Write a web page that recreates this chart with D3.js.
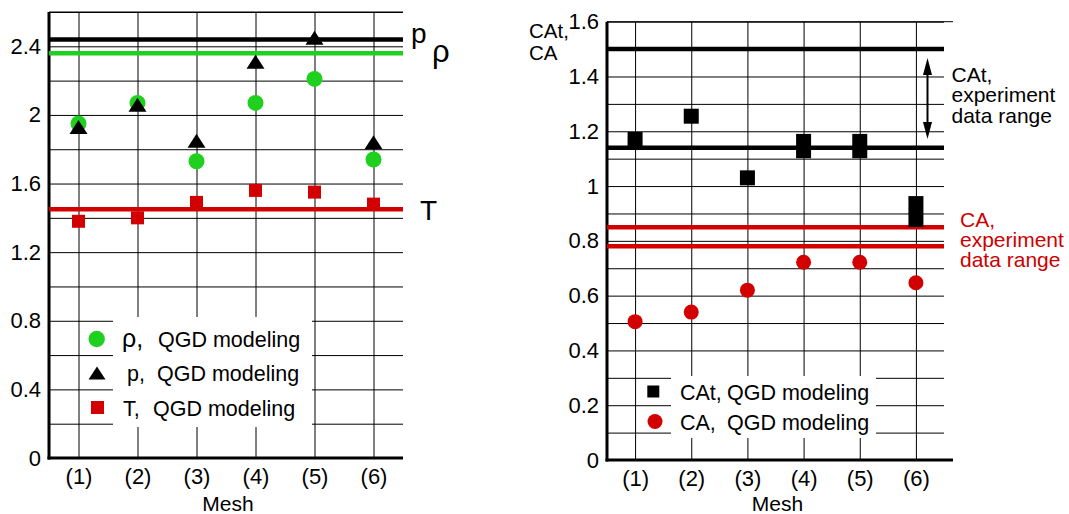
<!DOCTYPE html>
<html><head><meta charset="utf-8">
<script src="https://cdn.jsdelivr.net/npm/d3@7"></script>
<style>
body{margin:0;background:#fff}
svg{display:block}
text{font-family:"Liberation Sans",Arial,Helvetica,sans-serif;fill:#000}
</style>
</head><body>
<svg id="c" width="1069" height="514"></svg>
<script>
// ---------- data ----------
const meshIdx = [1, 2, 3, 4, 5, 6];
const meshLabels = ["(1)", "(2)", "(3)", "(4)", "(5)", "(6)"];

// left panel: rho, p, T (QGD modeling)
const rhoValues = [1.95, 2.07, 1.73, 2.07, 2.21, 1.74];
const pValues   = [1.93, 2.06, 1.85, 2.31, 2.45, 1.84];
const tValues   = [1.38, 1.40, 1.49, 1.56, 1.55, 1.48];
const pExperiment = 2.44;
const rhoExperiment = 2.36;
const tExperiment = 1.45;
const leftTickValues = [0, 0.4, 0.8, 1.2, 1.6, 2, 2.4];
const leftTickLabels = ["0", "0.4", "0.8", "1.2", "1.6", "2", "2.4"];
const leftLegendLabels = ["ρ,", "p,", "T,"];

// right panel: CAt, CA (QGD modeling)
const catUpper = [1.17, 1.255, 1.03, 1.163, 1.163, 0.936];
const catLower = [1.17, 1.255, 1.03, 1.129, 1.129, 0.878];
const caValues = [0.505, 0.54, 0.62, 0.722, 0.722, 0.647];
const catExperimentRange = [1.14, 1.50];
const caExperimentRange = [0.78, 0.85];
const rightTickValues = [0, 0.2, 0.4, 0.6, 0.8, 1, 1.2, 1.4, 1.6];
const rightTickLabels = ["0", "0.2", "0.4", "0.6", "0.8", "1", "1.2", "1.4", "1.6"];
const rightLegendLabels = ["CAt,", "CA,"];

// ---------- styles ----------
const GREEN = "#1fd01f", RED = "#d20000", RED_TEXT = "#cc0000";
const FONT = '"Liberation Sans",Arial,sans-serif';
const svg = d3.select("#c");

function fmt(vals, labels) { return v => { const i = vals.findIndex(t => Math.abs(t - v) < 1e-9); return i >= 0 ? labels[i] : ""; }; }

function panel(o) {
  const g = svg.append("g");
  const x = d3.scaleLinear().domain([0.5, 6.5]).range([o.x0, o.x1]);
  const y = d3.scaleLinear().domain([0, o.ymax]).range([o.y0, o.y1]);
  const gridVals = y.ticks(o.gridCount);

  // horizontal grid + tick labels
  const ya = g.append("g").attr("transform", `translate(${o.x0},0)`)
    .call(d3.axisLeft(y).tickValues(gridVals).tickSize(-(o.x1 - o.x0)).tickPadding(8)
      .tickFormat(fmt(o.tickVals, o.tickLabels)));
  ya.select(".domain").remove();
  ya.selectAll("line").attr("stroke", "#000").attr("stroke-width", 1);
  ya.selectAll("text").attr("font-size", 22).attr("font-family", FONT);

  // vertical grid + mesh labels
  const xa = g.append("g").attr("transform", `translate(0,${o.y0})`)
    .call(d3.axisBottom(x).tickValues(meshIdx).tickSize(-(o.y0 - o.y1)).tickPadding(10)
      .tickFormat((d, i) => meshLabels[i]));
  xa.select(".domain").remove();
  xa.selectAll("line").attr("stroke", "#000").attr("stroke-width", 1);
  xa.selectAll("text").attr("font-size", 22).attr("font-family", FONT);

  // legend white box
  g.append("rect").attr("x", o.box[0]).attr("y", o.box[1]).attr("width", o.box[2]).attr("height", o.box[3]).attr("fill", "#fff");

  // axes
  g.append("line").attr("x1", o.x0).attr("x2", o.x0).attr("y1", o.y1).attr("y2", o.y0 + 1.5)
    .attr("stroke", "#000").attr("stroke-width", 3);
  g.append("line").attr("x1", o.x0 - 1.5).attr("x2", o.axisEnd).attr("y1", o.y0).attr("y2", o.y0)
    .attr("stroke", "#000").attr("stroke-width", 3);
  g.append("line").attr("x1", o.x0).attr("x2", o.axisEnd).attr("y1", o.y1).attr("y2", o.y1)
    .attr("stroke", "#000").attr("stroke-width", 1);

  // Mesh title
  g.append("text").attr("x", (o.x0 + o.x1) / 2 + 2).attr("y", 511).attr("text-anchor", "middle")
    .attr("font-size", 21).text("Mesh");
  return { g, x, y };
}

function hline(g, x, y, v, color) {
  g.append("line").attr("x1", x.range()[0]).attr("x2", x.range()[1])
    .attr("y1", y(v)).attr("y2", y(v)).attr("stroke", color).attr("stroke-width", 4.5);
}
function triPath(w, h) { return `M0,${-h / 2}L${w / 2},${h / 2}L${-w / 2},${h / 2}Z`; }

// ---------- left panel ----------
const L = panel({ x0: 49, x1: 403, y0: 458, y1: 12, ymax: 2.6, gridCount: 13,
  tickVals: leftTickValues, tickLabels: leftTickLabels, axisEnd: 403, box: [113, 317, 199, 110] });

hline(L.g, L.x, L.y, pExperiment, "#000");
hline(L.g, L.x, L.y, rhoExperiment, GREEN);
hline(L.g, L.x, L.y, tExperiment, RED);

L.g.append("g").selectAll("circle").data(rhoValues).join("circle")
  .attr("cx", (d, i) => L.x(meshIdx[i])).attr("cy", d => L.y(d)).attr("r", 8).attr("fill", GREEN);
L.g.append("g").selectAll("path").data(pValues).join("path")
  .attr("d", triPath(18, 14)).attr("transform", (d, i) => `translate(${L.x(meshIdx[i])},${L.y(d)})`).attr("fill", "#000");
L.g.append("g").selectAll("rect").data(tValues).join("rect")
  .attr("x", (d, i) => L.x(meshIdx[i]) - 6.5).attr("y", d => L.y(d) - 6.5).attr("width", 13).attr("height", 13).attr("fill", RED);

// series labels at right
svg.append("text").attr("x", 411).attr("y", 43).attr("font-size", 28).text("p");
svg.append("text").attr("x", 432).attr("y", 62).attr("font-size", 31).text("ρ");
svg.append("text").attr("x", 420).attr("y", 219.5).attr("font-size", 28).text("T");

// left legend
const legL = svg.append("g");
const legLy = [339, 373, 407.5];
legL.append("circle").attr("cx", 96.7).attr("cy", legLy[0]).attr("r", 8.2).attr("fill", GREEN);
legL.append("path").attr("d", triPath(17, 13)).attr("transform", `translate(97,${legLy[1]})`).attr("fill", "#000");
legL.append("rect").attr("x", 91).attr("y", legLy[2] - 6.5).attr("width", 13).attr("height", 13).attr("fill", RED);
const legLx1 = [122, 127, 123], legLx2 = [158, 157, 153];
const legLsize = [25, 21.5, 21.5];
leftLegendLabels.forEach((s, i) => {
  legL.append("text").attr("x", legLx1[i]).attr("y", legLy[i] + 8).attr("font-size", legLsize[i]).text(s);
  legL.append("text").attr("x", legLx2[i]).attr("y", legLy[i] + 8).attr("font-size", 21.5).text("QGD modeling");
});

// ---------- right panel ----------
const R = panel({ x0: 607, x1: 944, y0: 460, y1: 21.7, ymax: 1.6, gridCount: 16,
  tickVals: rightTickValues, tickLabels: rightTickLabels, axisEnd: 953, box: [671, 376, 205, 62] });

hline(R.g, R.x, R.y, catExperimentRange[1], "#000");
hline(R.g, R.x, R.y, catExperimentRange[0], "#000");
hline(R.g, R.x, R.y, caExperimentRange[1], RED);
hline(R.g, R.x, R.y, caExperimentRange[0], RED);

const sq = 15;
R.g.append("g").selectAll("rect").data(catUpper).join("rect")
  .attr("x", (d, i) => R.x(meshIdx[i]) - sq / 2).attr("y", d => R.y(d) - sq / 2)
  .attr("width", sq).attr("height", (d, i) => sq + (R.y(catLower[i]) - R.y(d))).attr("fill", "#000");
R.g.append("g").selectAll("circle").data(caValues).join("circle")
  .attr("cx", (d, i) => R.x(meshIdx[i])).attr("cy", d => R.y(d)).attr("r", 7.5).attr("fill", RED);

// y label
svg.append("text").attr("x", 529).attr("y", 38).attr("font-size", 20.5).text("CAt,");
svg.append("text").attr("x", 529).attr("y", 59.5).attr("font-size", 20.5).text("CA");

// experiment range annotation (double arrow)
const ax = 927.5, aTop = 58, aBot = 139;
svg.append("line").attr("x1", ax).attr("x2", ax).attr("y1", aTop + 10).attr("y2", aBot - 10).attr("stroke", "#000").attr("stroke-width", 2);
svg.append("path").attr("d", `M${ax},${aTop}L${ax + 4.5},${aTop + 17}L${ax - 4.5},${aTop + 17}Z`).attr("fill", "#000");
svg.append("path").attr("d", `M${ax},${aBot}L${ax + 4.5},${aBot - 17}L${ax - 4.5},${aBot - 17}Z`).attr("fill", "#000");
["CAt,", "experiment", "data range"].forEach((s, i) =>
  svg.append("text").attr("x", 951.5).attr("y", 81.5 + i * 20.5).attr("font-size", 21).text(s));
["CA,", "experiment", "data range"].forEach((s, i) =>
  svg.append("text").attr("x", 960).attr("y", 227 + i * 20).attr("font-size", 21).style("fill", RED_TEXT).text(s));

// right legend
const legR = svg.append("g");
const legRy = [391.5, 421.5];
legR.append("rect").attr("x", 653.3 - 6).attr("y", legRy[0] - 6).attr("width", 12).attr("height", 12).attr("fill", "#000");
legR.append("circle").attr("cx", 655).attr("cy", legRy[1]).attr("r", 7.5).attr("fill", RED);
rightLegendLabels.forEach((s, i) => {
  legR.append("text").attr("x", 680).attr("y", legRy[i] + 8).attr("font-size", 21.5).text(s);
  legR.append("text").attr("x", 727).attr("y", legRy[i] + 8).attr("font-size", 21.5).text("QGD modeling");
});
</script>
</body></html>
